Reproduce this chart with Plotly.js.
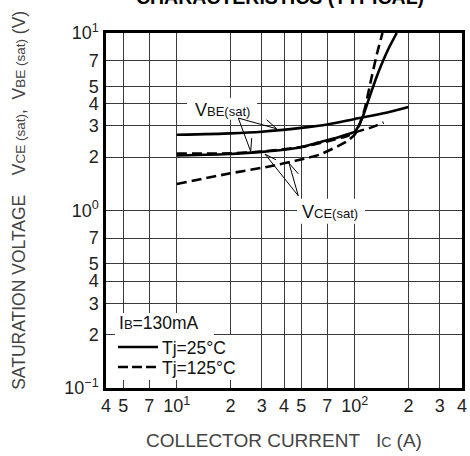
<!DOCTYPE html>
<html>
<head>
<meta charset="utf-8">
<script src="https://cdn.plot.ly/plotly-3.0.1.min.js"></script>
<style>html,body{margin:0;padding:0;background:#fff;}#chart{width:470px;height:456px;}</style>
</head>
<body>
<div id="chart"></div>
<script>
// ---- data ----
const ic_vbe25 = [10, 20, 30, 50, 70, 100, 150, 200];
const vbe25    = [2.67, 2.72, 2.78, 2.92, 3.05, 3.28, 3.55, 3.83];

const ic_vbe125 = [10, 20, 30, 50, 70, 90, 100, 125, 145];
const vbe125    = [2.09, 2.10, 2.15, 2.28, 2.45, 2.62, 2.75, 2.95, 3.13];

const ic_vce25 = [10, 20, 30, 40, 50, 63, 80, 90, 100, 105, 111, 117, 124, 132, 141, 155, 172];
const vce25    = [2.04, 2.08, 2.14, 2.2, 2.27, 2.42, 2.58, 2.68, 2.78, 3.0, 3.39, 3.95, 4.69, 5.6, 6.63, 8.2, 10];

const ic_vce125 = [10, 20, 33, 49, 63, 80, 90, 100, 107, 114, 124, 133, 143];
const vce125    = [1.41, 1.62, 1.77, 1.93, 2.06, 2.30, 2.45, 2.68, 3.1, 3.78, 5.58, 7.6, 10];

const xTickVals = [4, 5, 7, 10, 20, 30, 40, 50, 70, 100, 200, 300, 400];
const xTickText = ["4", "5", "7", "10<sup>1</sup>", "2", "3", "4", "5", "7", "10<sup>2</sup>", "2", "3", "4"];
const yTickVals = [0.1, 0.2, 0.3, 0.4, 0.5, 0.7, 1, 2, 3, 4, 5, 7, 10];
const yTickText = ["10<sup>\u22121</sup>", "2", "3", "4", "5", "7", "10<sup>0</sup>", "2", "3", "4", "5", "7", "10<sup>1</sup>"];
const decadesX = [10, 100];
const decadesY = [1];

// ---- layout helpers (pixel -> paper) ----
const PL = 106, PR = 462, PT = 33.3, PB = 388;
const px = x => (x - PL) / (PR - PL);
const py = y => (PB - y) / (PB - PT);

const FONT = "Liberation Sans, Arial, Helvetica, sans-serif";
const sm = (t, s) => "<span style='font-size:" + (s || 13) + "px'>" + t + "</span>";

const solid = {color: "#000", width: 2.6};
const dashed = {color: "#000", width: 2.6, dash: "10px,5px"};

const traces = [
  {x: ic_vbe25, y: vbe25, mode: "lines", line: solid, name: "VBE(sat) Tj=25°C"},
  {x: ic_vbe125, y: vbe125, mode: "lines", line: dashed, name: "VBE(sat) Tj=125°C"},
  {x: ic_vce25, y: vce25, mode: "lines", line: solid, name: "VCE(sat) Tj=25°C"},
  {x: ic_vce125, y: vce125, mode: "lines", line: dashed, name: "VCE(sat) Tj=125°C"}
];
traces.forEach(t => { t.showlegend = false; t.line = Object.assign({shape: "spline", smoothing: 0.6}, t.line); });

const shapes = [];
// heavier decade grid lines
decadesX.forEach(v => shapes.push({type: "line", xref: "x", yref: "paper", x0: Math.log10(v), x1: Math.log10(v), y0: 0, y1: 1, line: {color: "#000", width: 1.6}, layer: "below"}));
decadesY.forEach(v => shapes.push({type: "line", xref: "paper", yref: "y", x0: 0, x1: 1, y0: Math.log10(v), y1: Math.log10(v), line: {color: "#000", width: 1.6}, layer: "below"}));

function rect(x0, y0, x1, y1) {
  shapes.push({type: "rect", xref: "paper", yref: "paper", x0: px(x0), x1: px(x1), y0: py(y1), y1: py(y0), fillcolor: "#fff", line: {width: 0}, layer: "above"});
}
function seg(x0, y0, x1, y1, w, dash) {
  shapes.push({type: "line", xref: "paper", yref: "paper", x0: px(x0), x1: px(x1), y0: py(y0), y1: py(y1), line: {color: "#000", width: w || 1, dash: dash || "solid"}, layer: "above"});
}
// label backgrounds
rect(187, 98, 257, 120);
rect(297, 199, 365, 224);
// legend box backgrounds
rect(115, 313, 214, 336);
rect(115, 335, 256, 380);
// legend samples
seg(118, 347, 158, 347, 2.6);
seg(118, 367, 158, 367, 2.6, "10px,4px");
// pointers VBE(sat)
seg(238.3, 118.3, 276.7, 129);
seg(266.7, 120, 276.7, 129);
seg(238.3, 118.3, 250.7, 151.7);
seg(251.7, 138.3, 250.7, 151.7);
// pointers VCE(sat)
seg(298.3, 196, 265, 154.3);
seg(276, 160, 265, 154.3);
seg(298.3, 196, 289, 163.3);
seg(289, 163.3, 298.3, 174);

function ann(text, x, y, anchor, size, color) {
  return {text: text, xref: "paper", yref: "paper", x: px(x), y: py(y), xanchor: anchor || "left", yanchor: "middle",
          showarrow: false, font: {family: FONT, size: size || 17, color: color || "#111"}};
}
const yTitle = ann("SATURATION VOLTAGE\u00a0\u00a0\u00a0\u00a0V" + sm("CE (sat)", 13.5) + ",\u00a0\u00a0V" + sm("BE (sat)", 13.5) + " (V)", 19, 201, "center", 17.5, "#444");
yTitle.textangle = -90;
const annotations = [
  ann("V" + sm("BE(sat)"), 222.5, 110, "center", 18),
  ann("V" + sm("CE(sat)"), 330, 212, "center", 18),
  ann("I" + sm("B") + "=130mA", 117, 323, "left", 17.5),
  ann("Tj=25°C", 160, 348, "left", 17.5),
  ann("Tj=125°C", 160, 368, "left", 17.5),
  yTitle
];

const axisCommon = {
  type: "log", showline: true, mirror: true, linecolor: "#000", linewidth: 2.7,
  showgrid: true, gridcolor: "#3a3a3a", gridwidth: 1, ticks: "", zeroline: false,
  tickfont: {family: FONT, size: 18, color: "#222"}, tickmode: "array"
};

const layout = {
  width: 470, height: 456,
  margin: {l: PL, r: 470 - PR, t: PT, b: 456 - PB},
  paper_bgcolor: "#fff", plot_bgcolor: "#fff",
  showlegend: false,
  title: {text: "<b>CHARACTERISTICS (TYPICAL)</b>", font: {family: FONT, size: 19.5, color: "#000"},
          xref: "paper", x: px(280), xanchor: "center", yref: "paper", y: 1, yanchor: "bottom", pad: {b: 29}},
  xaxis: Object.assign({}, axisCommon, {
    range: [Math.log10(4), Math.log10(400)], tickvals: xTickVals, ticktext: xTickText,
    ticklabelstandoff: 0,
    title: {text: "COLLECTOR CURRENT\u00a0\u00a0\u00a0I" + sm("C", 14) + " (A)", font: {family: FONT, size: 19, color: "#444"}, standoff: 19}
  }),
  yaxis: Object.assign({}, axisCommon, {
    range: [-1, 1], tickvals: yTickVals, ticktext: yTickText,
    ticklabelstandoff: 1
  }),
  shapes: shapes,
  annotations: annotations
};

Plotly.newPlot("chart", traces, layout, {staticPlot: true, displayModeBar: false});
</script>
</body>
</html>
